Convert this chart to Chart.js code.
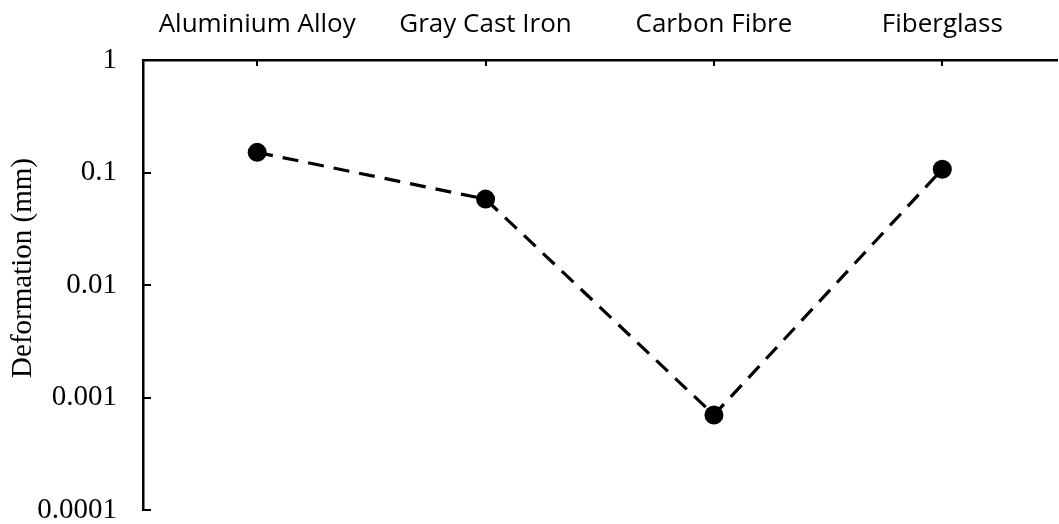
<!DOCTYPE html>
<html>
<head>
<meta charset="utf-8">
<script src="https://cdn.jsdelivr.net/npm/chart.js@4/dist/chart.umd.min.js"></script>
<style>
  html, body { margin: 0; padding: 0; background: #fff; overflow: hidden; }
  #wrap { position: relative; width: 1066px; height: 524px; }
</style>
</head>
<body>
<div id="wrap"><canvas id="c"></canvas></div>
<script>
const categories = ["Aluminium Alloy", "Gray Cast Iron", "Carbon Fibre", "Fiberglass"];
const deformation = [0.151, 0.058, 0.0007, 0.107];
const yTickValues = [0.0001, 0.001, 0.01, 0.1, 1];
const yTitle = "Deformation (mm)";

const yTitlePlugin = {
  id: 'yTitle',
  afterDraw(chart) {
    const ctx = chart.ctx;
    ctx.save();
    ctx.translate(23, 268);
    ctx.rotate(-Math.PI / 2);
    ctx.font = '29px "Liberation Serif", "Times New Roman", serif';
    ctx.fillStyle = '#000';
    ctx.textAlign = 'center';
    ctx.textBaseline = 'middle';
    ctx.fillText(yTitle, 0, 0);
    ctx.restore();
  }
};

new Chart(document.getElementById('c'), {
  type: 'line',
  data: {
    labels: categories,
    datasets: [{
      data: deformation,
      borderColor: '#000',
      backgroundColor: '#000',
      borderWidth: 3.2,
      borderDash: [16, 10],
      pointRadius: 9.5,
      pointHoverRadius: 9.5,
      pointBackgroundColor: '#000',
      pointBorderColor: '#000',
      pointBorderWidth: 0,
      tension: 0,
      fill: false
    }]
  },
  options: {
    responsive: true,
    maintainAspectRatio: false,
    animation: false,
    events: [],
    layout: { padding: { left: 0, right: 0, top: 0, bottom: 14 } },
    plugins: { legend: { display: false }, tooltip: { enabled: false } },
    scales: {
      x: {
        position: 'top',
        offset: true,
        afterFit: s => { s.height = 60; s.paddingLeft = 0; s.paddingRight = 0; },
        grid: { display: true, drawOnChartArea: false, drawTicks: true, tickLength: -6, color: '#000', lineWidth: 2 },
        border: { display: true, color: '#000', width: 2.5 },
        ticks: {
          color: '#000',
          padding: 26,
          maxRotation: 0,
          autoSkip: false,
          font: { family: '"Open Sans", sans-serif', size: 26 }
        }
      },
      y: {
        type: 'logarithmic',
        min: 0.0001,
        max: 1,
        afterFit: s => { s.width = 143; s.paddingTop = 0; s.paddingBottom = 0; },
        afterBuildTicks: s => {
          s.ticks = yTickValues.map(v => ({ value: v }));
        },
        grid: { display: true, drawOnChartArea: false, drawTicks: true, tickLength: -8, color: '#000', lineWidth: 2 },
        border: { display: true, color: '#000', width: 2.5 },
        ticks: {
          color: '#000',
          padding: 34,
          autoSkip: false,
          callback: v => String(v),
          font: { family: '"Liberation Serif", "Times New Roman", serif', size: 29 }
        }
      }
    }
  },
  plugins: [yTitlePlugin]
});
</script>
</body>
</html>
